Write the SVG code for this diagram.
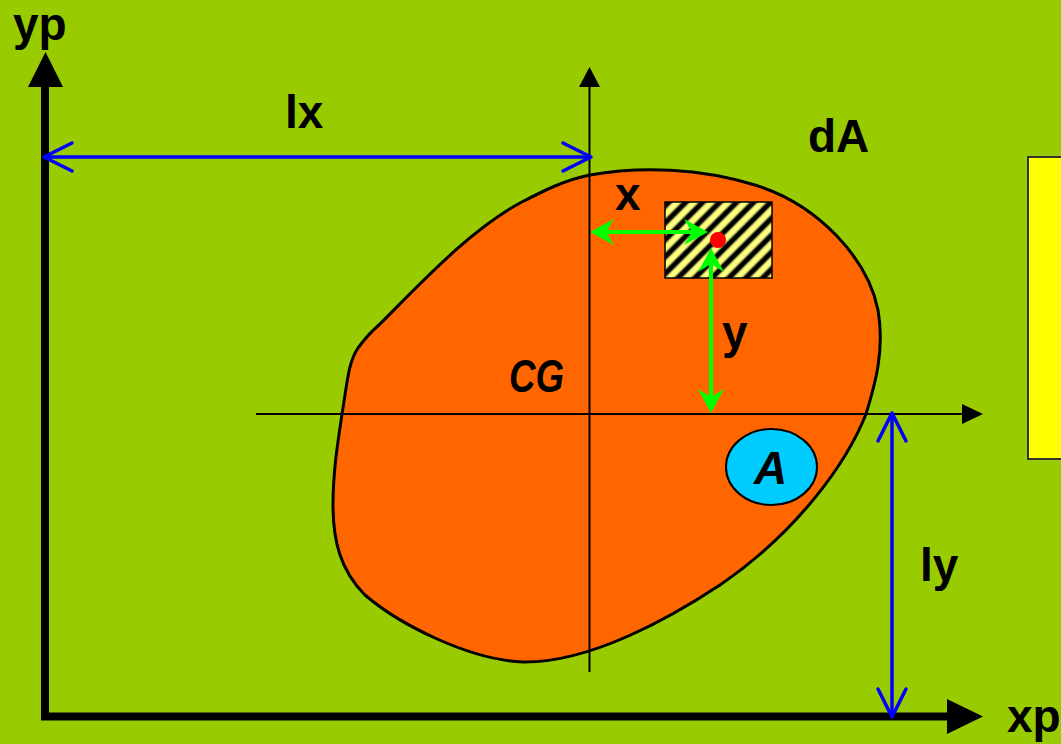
<svg xmlns="http://www.w3.org/2000/svg" width="1061" height="744" viewBox="0 0 1061 744">
  <style>
    .lbl { font-family: "Liberation Sans", Arial, sans-serif; font-weight: bold; font-size: 46px; fill: #000; }
    .it { font-style: italic; }
    .thin { stroke: #000; stroke-width: 2; fill: none; }
    .thick { stroke: #000; stroke-width: 8; fill: none; }
    .blue { stroke: #0000FF; stroke-width: 3.5; fill: none; marker-start: url(#openArrow); marker-end: url(#openArrow); }
    .green { stroke: #00FF00; stroke-width: 4; fill: none; marker-start: url(#greenArrow); marker-end: url(#greenArrow); }
  </style>
  <defs>
    <marker id="openArrow" markerUnits="userSpaceOnUse" viewBox="-2 -2 32 32" refX="28" refY="14" markerWidth="32" markerHeight="32" orient="auto-start-reverse" overflow="visible">
      <path d="M0,0 L28,14 L0,28" fill="none" stroke="#0000FF" stroke-width="3.5" stroke-linecap="round" stroke-linejoin="round"/>
    </marker>
    <marker id="greenArrow" markerUnits="userSpaceOnUse" viewBox="0 0 24 26" refX="14" refY="13" markerWidth="24" markerHeight="26" orient="auto-start-reverse" overflow="visible">
      <path d="M0,0 L24,13 L0,26 L8,13 Z" fill="#00FF00"/>
    </marker>
    <linearGradient id="stripeGrad" x1="0" y1="0" x2="1" y2="0">
      <stop offset="0" stop-color="#FFFF80"/>
      <stop offset="0.2" stop-color="#000"/>
      <stop offset="0.45" stop-color="#000"/>
      <stop offset="0.65" stop-color="#FFFF80"/>
      <stop offset="1" stop-color="#FFFF80"/>
    </linearGradient>
    <pattern id="hatch" patternUnits="userSpaceOnUse" width="12" height="12" patternTransform="rotate(45)">
      <rect x="0" y="0" width="12" height="12" fill="url(#stripeGrad)"/>
    </pattern>
  </defs>

  <rect id="background" x="0" y="0" width="1061" height="744" fill="#99CC00"/>

  <g id="yellow-box">
    <rect x="1028" y="157" width="45" height="302" fill="#FFFF00" stroke="#333" stroke-width="2"/>
  </g>

  <g id="section">
    <path d="M590,175 C640,166 700,168 755,185 C820,205 868,260 878,310 C885,350 875,385 866,414 C848,460 800,530 720,585 C670,618 590,663 523,662 C470,660 400,625 365,595 C340,570 333,540 333,505 C333,470 338,440 345,395 C348,375 350,360 358,348 C366,337 373,330 380,324 C420,284 470,230 520,203 C545,190 565,180 590,175 Z" fill="#FF6600" stroke="#000" stroke-width="3"/>
  </g>

  <g id="area-A">
    <ellipse cx="771.5" cy="467" rx="45.5" ry="38" fill="#00CCFF" stroke="#000" stroke-width="2"/>
    <text class="lbl it" x="754" y="484">A</text>
  </g>

  <g id="element-dA">
    <rect x="665" y="202" width="107" height="76" fill="url(#hatch)" stroke="#000" stroke-width="1.5"/>
  </g>

  <g id="connectors">
    <line class="thick" x1="45" y1="720" x2="45" y2="86"/>
    <polygon points="28,87 63,87 45.5,52" fill="#000"/>
    <line class="thick" x1="41" y1="716.5" x2="948" y2="716.5"/>
    <polygon points="947,699 947,734 983,716.5" fill="#000"/>
    <line class="thin" x1="589.5" y1="672" x2="589.5" y2="86"/>
    <polygon points="579,87 600,87 589.5,67" fill="#000"/>
    <line class="thin" x1="256" y1="414" x2="963" y2="414"/>
    <polygon points="962,404 962,424 983,414" fill="#000"/>
    <line class="blue" x1="44" y1="157" x2="591" y2="157"/>
    <line class="blue" x1="892" y1="413" x2="892" y2="717"/>
    <line class="green" x1="600" y1="232" x2="698" y2="232"/>
    <line class="green" x1="711" y1="258" x2="711" y2="403"/>
  </g>

  <g id="point">
    <circle cx="718" cy="240" r="8" fill="#FF0000"/>
  </g>

  <g id="labels">
    <text class="lbl" x="13" y="40">yp</text>
    <text class="lbl" x="285" y="128">lx</text>
    <text class="lbl" x="808" y="152">dA</text>
    <text class="lbl it" x="509" y="392" textLength="55" lengthAdjust="spacingAndGlyphs">CG</text>
    <text class="lbl" x="615" y="210">x</text>
    <text class="lbl" x="722" y="348">y</text>
    <text class="lbl" x="920" y="581">ly</text>
    <text class="lbl" x="1007" y="732">xp</text>
  </g>
</svg>
